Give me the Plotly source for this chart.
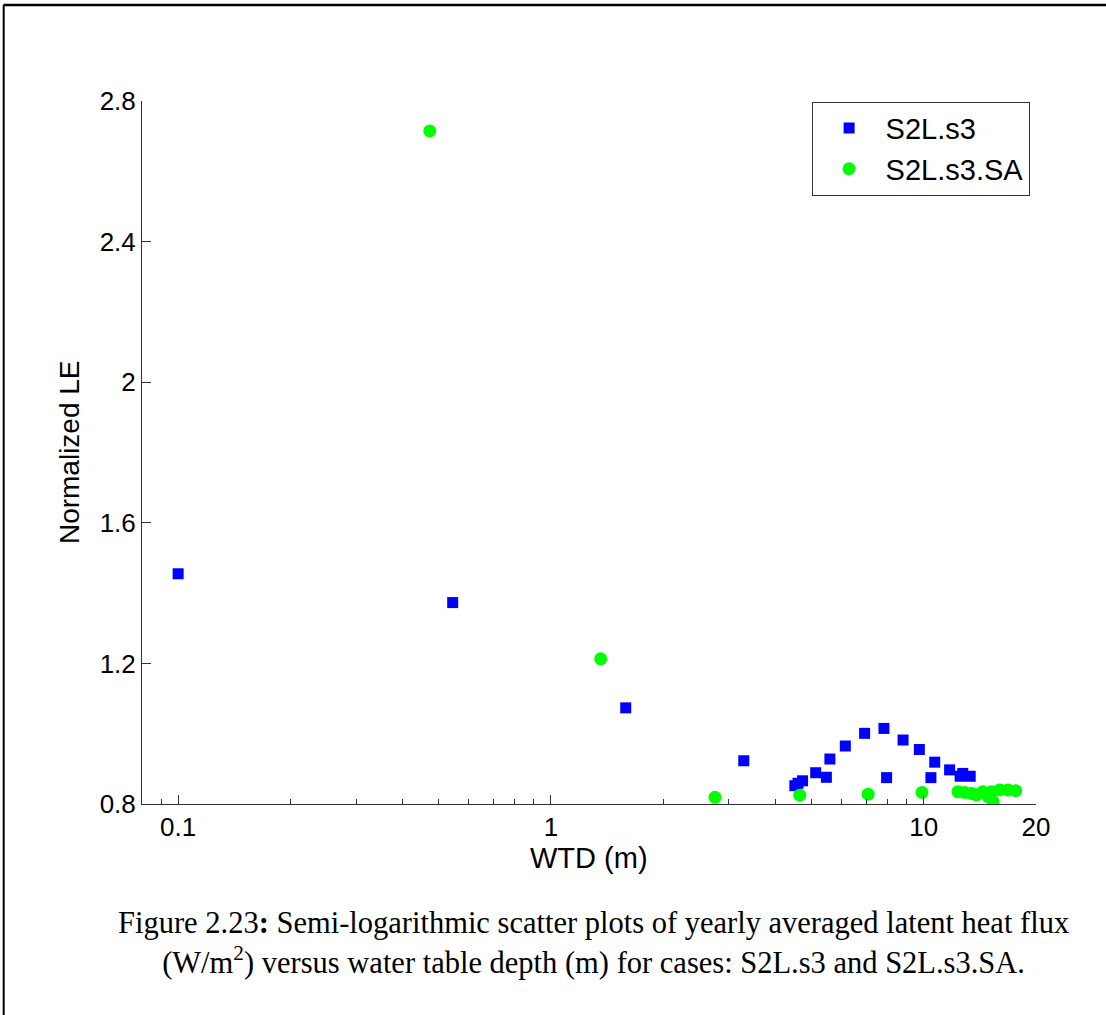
import plotly.graph_objects as go

# ---- data ----
s3_wtd = [0.1, 0.545, 1.587, 3.29, 4.51, 4.60, 4.73, 5.13, 5.48, 5.60, 6.16, 6.94,
          7.82, 7.95, 8.80, 9.73, 10.45, 10.70, 11.73, 12.52, 12.72, 13.32]
s3_le = [1.455, 1.373, 1.0735, 0.923, 0.852, 0.859, 0.866, 0.889, 0.876, 0.928, 0.965, 1.001,
         1.015, 0.875, 0.982, 0.955, 0.875, 0.919, 0.897, 0.879, 0.887, 0.879]

sa_wtd = [0.473, 1.36, 2.755, 4.65, 7.09, 9.89, 12.35, 12.87, 13.42, 13.84, 14.41,
          14.87, 15.33, 15.18, 15.98, 16.82, 17.64]
sa_le = [2.715, 1.213, 0.819, 0.825, 0.828, 0.833, 0.835, 0.833, 0.830, 0.826, 0.835,
         0.821, 0.807, 0.835, 0.840, 0.840, 0.838]

x_major = [0.1, 1, 10, 20]
x_major_text = ["0.1", "1", "10", "20"]
x_minor = [0.09, 0.2, 0.3, 0.4, 0.5, 0.6, 0.7, 0.8, 0.9,
           2, 3, 4, 5, 6, 7, 8, 9]
y_ticks = [0.8, 1.2, 1.6, 2.0, 2.4, 2.8]
y_tick_text = ["0.8", "1.2", "1.6", "2", "2.4", "2.8"]

caption = ("Figure 2.23<b>:</b> Semi-logarithmic scatter plots of yearly averaged latent heat flux<br>"
           "(W/m<sup>2</sup>) versus water table depth (m) for cases: S2L.s3 and S2L.s3.SA.")

fig = go.Figure()
fig.add_trace(go.Scatter(x=s3_wtd, y=s3_le, mode="markers", name="S2L.s3",
                         marker=dict(symbol="square", size=11, color="#0000FF",
                                     line=dict(width=0))))
fig.add_trace(go.Scatter(x=sa_wtd, y=sa_le, mode="markers", name="S2L.s3.SA",
                         marker=dict(symbol="circle", size=13, color="#00FF00",
                                     line=dict(width=0))))

sans = "Liberation Sans, Arial, sans-serif"
axis_font = dict(family=sans, size=26, color="black")

fig.update_layout(
    width=1106, height=1015,
    margin=dict(l=142, r=70, t=101, b=211),
    paper_bgcolor="white", plot_bgcolor="white",
    showlegend=True,
    legend=dict(x=0.749, y=0.999, xanchor="left", yanchor="top",
                bgcolor="white", bordercolor="#333333", borderwidth=1,
                itemwidth=63,
                font=dict(family=sans, size=29, color="black"),
                tracegroupgap=0),
    xaxis=dict(type="log", range=[-1.0969, 1.30103],
               tickmode="array", tickvals=x_major, ticktext=x_major_text,
               ticks="inside", ticklen=9, tickwidth=1, tickcolor="#333333",
               minor=dict(tickmode="array", tickvals=x_minor, ticks="inside",
                          ticklen=5, tickwidth=1, tickcolor="#333333", showgrid=False),
               showline=True, linecolor="#333333", linewidth=1, mirror=False,
               showgrid=False, zeroline=False, tickfont=axis_font),
    yaxis=dict(range=[0.8, 2.8], tickmode="array", tickvals=y_ticks, ticktext=y_tick_text,
               ticks="inside", ticklen=9, tickwidth=1, tickcolor="#333333",
               showline=True, linecolor="#333333", linewidth=1, mirror=False,
               showgrid=False, zeroline=False, tickfont=axis_font),
    annotations=[
        dict(text="Normalized LE", xref="paper", yref="paper", x=-0.081, y=0.5,
             xanchor="center", yanchor="middle", textangle=-90, showarrow=False,
             font=dict(family=sans, size=28, color="black")),
        dict(text="WTD (m)", xref="paper", yref="paper", x=0.5, y=-0.077,
             xanchor="center", yanchor="middle", showarrow=False,
             font=dict(family=sans, size=29, color="black")),
        dict(text=caption, xref="paper", yref="paper", x=0.5045, y=-0.1977,
             xanchor="center", yanchor="middle", showarrow=False, align="center",
             font=dict(family="Liberation Serif, Times New Roman, serif", size=30.5, color="black")),
    ],
    shapes=[
        dict(type="line", xref="paper", yref="paper", x0=-0.155, x1=1.08,
             y0=1.1365, y1=1.1365, line=dict(color="black", width=2.5)),
        dict(type="line", xref="paper", yref="paper", x0=-0.1547, x1=-0.1547,
             y0=1.1365, y1=-0.31, line=dict(color="black", width=2)),
    ],
)

fig.write_html("out.html")
